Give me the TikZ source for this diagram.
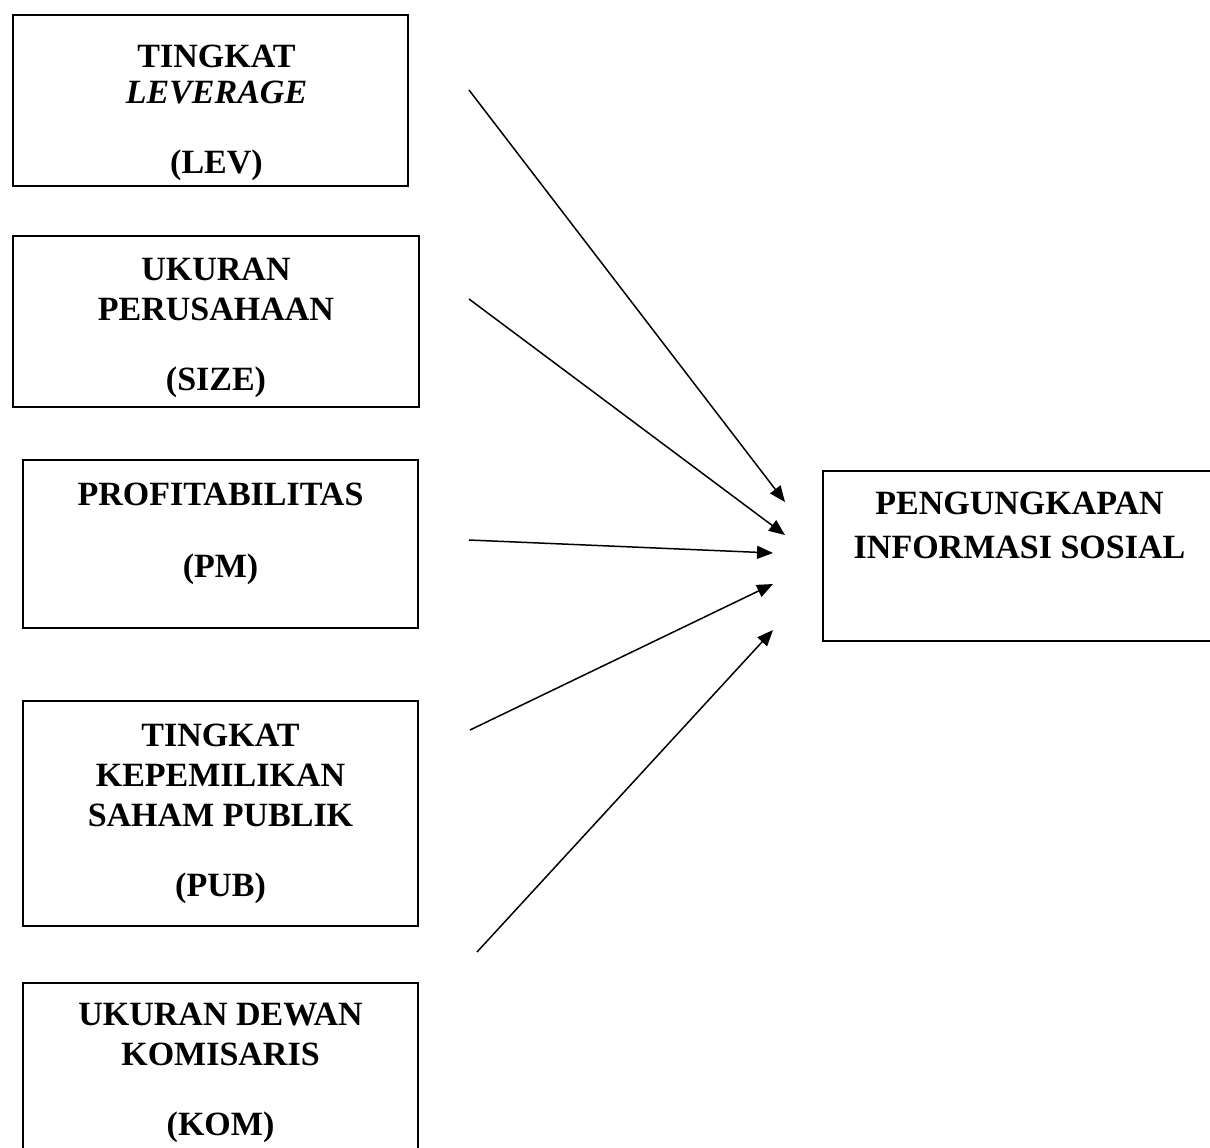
\documentclass[tikz,border=0pt]{standalone}
\usepackage{fontspec}
\setmainfont{Liberation Serif}
\usepackage{tikz}
\usetikzlibrary{positioning,arrows.meta}

\begin{document}
\begin{tikzpicture}[
      x=0.5pt,y=-0.5pt,
      >={Triangle[length=8pt,width=6.5pt]},
      var/.style={draw=black,line width=0.9pt,inner sep=0pt},
      lbl/.style={align=center,inner sep=0pt,
        font=\fontsize{17}{20}\selectfont\bfseries},
      flow/.style={draw=black,line width=0.75pt,->}
    ]
    \clip (0,0) rectangle (1210,1147);
    % variable boxes
    \node[var,minimum width=197.5pt,minimum height=85.5pt] (LEV) at (210.5,100.5) {};
    \node[var,minimum width=203pt,minimum height=85.5pt] (SIZE) at (216,321.5) {};
    \node[var,minimum width=197.5pt,minimum height=84pt] (PM) at (220.5,544) {};
    \node[var,minimum width=197.5pt,minimum height=112.5pt] (PUB) at (220.5,813.5) {};
    \node[var,minimum width=197.5pt,minimum height=98.5pt] (KOM) at (220.5,1081.5) {};
    \node[var,minimum width=208.5pt,minimum height=85pt] (PIS) at (1031.5,556) {};
    % box texts
    \node[lbl,below=15pt of LEV.north,xshift=3pt] (LEVt)
      {TINGKAT\\[-2pt] \textit{LEVERAGE}\\[15pt] (LEV)};
    \node[lbl,below=11.5pt of SIZE.north] (SIZEt)
      {UKURAN\\ PERUSAHAAN\\[15pt] (SIZE)};
    \node[lbl,below=11.5pt of PM.north] (PMt)
      {PROFITABILITAS\\[16pt] (PM)};
    \node[lbl,below=11.5pt of PUB.north] (PUBt)
      {TINGKAT\\ KEPEMILIKAN\\ SAHAM PUBLIK\\[15pt] (PUB)};
    \node[lbl,below=10.5pt of KOM.north] (KOMt)
      {UKURAN DEWAN\\ KOMISARIS\\[15pt] (KOM)};
    \node[lbl,below=10.5pt of PIS.north,xshift=-6pt] (PISt)
      {PENGUNGKAPAN\\[2pt] INFORMASI SOSIAL};
    % arrow ends
    \coordinate (s1) at (469,90);  \coordinate (e1) at (785,502);
    \coordinate (s2) at (469,299); \coordinate (e2) at (785,535);
    \coordinate (s3) at (469,540); \coordinate (e3) at (773,553);
    \coordinate (s4) at (470,730); \coordinate (e4) at (773,584);
    \coordinate (s5) at (477,952); \coordinate (e5) at (773,630);
    \draw[flow] (s1) -- (e1);
    \draw[flow] (s2) -- (e2);
    \draw[flow] (s3) -- (e3);
    \draw[flow] (s4) -- (e4);
    \draw[flow] (s5) -- (e5);
  \end{tikzpicture}
\end{document}
